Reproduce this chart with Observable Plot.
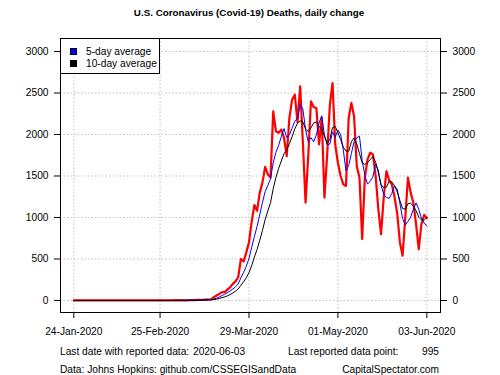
<!DOCTYPE html>
<html>
<head>
<meta charset="utf-8">
<script src="https://cdn.jsdelivr.net/npm/d3@7"></script>
<script src="https://cdn.jsdelivr.net/npm/@observablehq/plot@0.6"></script>
<style>
  html, body { margin: 0; padding: 0; background: white; }
  #wrap { position: relative; width: 500px; height: 375px; font-family: 'Liberation Sans', Arial, sans-serif; color: black; }
  #wrap svg { position: absolute; left: 0; top: 0; }
  .t { position: absolute; white-space: nowrap; font-size: 10.2px; line-height: 1; }
  #title { left: 0; width: 498px; text-align: center; top: 8px; font-weight: bold; font-size: 9.8px; }
  #legend { position: absolute; left: 60px; top: 38px; width: 98px; height: 34px; border: 1px solid black; background: white; box-sizing: content-box; }
  .sw { position: absolute; width: 7px; height: 7px; left: 9px; }
  .lt { position: absolute; left: 25px; font-size: 10.2px; line-height: 1; white-space: nowrap; }
</style>
</head>
<body>
<div id="wrap">
  <div id="chart"></div>
  <div class="t" id="title"></div>
  <div id="legend"></div>
  <div class="t" id="f1a" style="left:60px; top:347px;"></div>
  <div class="t" id="f1b" style="left:193px; top:347px;"></div>
  <div class="t" id="f1c" style="left:288px; top:347px;"></div>
  <div class="t" id="f1d" style="right:61px; top:347px;"></div>
  <div class="t" id="f2a" style="left:60px; top:365px;"></div>
  <div class="t" id="f2b" style="right:61px; top:365px;"></div>
</div>
<script>
// ---- Data ----
const titleText = "U.S. Coronavirus (Covid-19) Deaths, daily change";
const seriesNames = ["5-day average", "10-day average"];
const seriesColors = ["blue", "black"];
const firstDate = "2020-01-24";
// Daily change in deaths, 2020-01-24 .. 2020-06-03
const janFebDeaths = new Array(36).fill(0).concat([1]); // Jan 24 – Feb 29
const marDeaths = [1, 5, 1, 3, 2, 2, 3, 4, 4, 6, 8, 8, 10, 12, 15, 40, 60, 80, 100, 100,
  130, 160, 200, 230, 280, 500, 470, 580, 700, 950, 1150];
const aprDeaths = [1080, 1300, 1420, 1610, 1520, 1480, 2280, 2040, 2020, 2060, 1960, 1740,
  2200, 2420, 2480, 2150, 2580, 1900, 1180, 1750, 2400, 2330, 2320, 1880, 2200, 1240, 1750,
  2350, 2620, 1880];
const mayDeaths = [1660, 1500, 1400, 1380, 2200, 2380, 2220, 1620, 1480, 740, 1480, 1700,
  1780, 1760, 1500, 1100, 800, 1240, 1560, 1450, 1400, 1250, 1050, 700, 540, 1000, 1480,
  1300, 1180, 920, 620];
const junDeaths = [920, 1030, 995];
const yTicks = [0, 500, 1000, 1500, 2000, 2500, 3000];
const xTickLabels = ["2020-01-24", "2020-02-25", "2020-03-29", "2020-05-01", "2020-06-03"];
const footer = {
  lastDateLabel: "Last date with reported data:",
  lastDate: "2020-06-03",
  lastPointLabel: "Last reported data point:",
  lastPoint: "995",
  source: "Data: Johns Hopkins: github.com/CSSEGISandData",
  credit: "CapitalSpectator.com"
};

// ---- Build table ----
const deaths = [].concat(janFebDeaths, marDeaths, aprDeaths, mayDeaths, junDeaths);
const start = new Date(firstDate + "T00:00:00Z");
const data = deaths.map((v, i) => ({date: d3.utcDay.offset(start, i), deaths: v}));
const xTicks = xTickLabels.map(s => new Date(s + "T00:00:00Z"));

const chart = Plot.plot({
  width: 500,
  height: 375,
  marginLeft: 60,
  marginRight: 60,
  marginTop: 38,
  marginBottom: 63,
  x: {type: "utc", domain: [new Date("2020-01-19T01:26:00Z"), new Date("2020-06-08T01:40:00Z")]},
  y: {domain: [-145, 3157]},
  style: {fontFamily: "'Liberation Sans', Arial, sans-serif", fontSize: "10.2px", color: "black", background: "white", overflow: "visible"},
  marks: [
    Plot.gridY(yTicks, {stroke: "#c2c2c2", strokeOpacity: 1, strokeDasharray: "1.5,2"}),
    Plot.gridX(xTicks, {stroke: "#c2c2c2", strokeOpacity: 1, strokeDasharray: "1.5,2"}),
    Plot.line(data, {x: "date", y: "deaths", stroke: "red", strokeWidth: 2.2}),
    Plot.line(data, Plot.windowY({k: 5, anchor: "end", reduce: "mean"}, {x: "date", y: "deaths", stroke: seriesColors[0], strokeWidth: 1})),
    Plot.line(data, Plot.windowY({k: 10, anchor: "end", reduce: "mean"}, {x: "date", y: "deaths", stroke: seriesColors[1], strokeWidth: 1})),
    Plot.frame({stroke: "black", strokeWidth: 1}),
    Plot.axisY(yTicks, {anchor: "left", tickSize: 6, tickPadding: 6, label: null, stroke: "black", tickFormat: d => String(d)}),
    Plot.axisY(yTicks, {anchor: "right", tickSize: 6, tickPadding: 6, label: null, stroke: "black", tickFormat: d => String(d)}),
    Plot.axisX(xTicks, {anchor: "bottom", tickSize: 6, tickPadding: 9, label: null, stroke: "black", tickFormat: d3.utcFormat("%d-%b-%Y")})
  ]
});
document.getElementById("chart").appendChild(chart);

// ---- Texts ----
document.getElementById("title").textContent = titleText;
document.getElementById("f1a").textContent = footer.lastDateLabel;
document.getElementById("f1b").textContent = footer.lastDate;
document.getElementById("f1c").textContent = footer.lastPointLabel;
document.getElementById("f1d").textContent = footer.lastPoint;
document.getElementById("f2a").textContent = footer.source;
document.getElementById("f2b").textContent = footer.credit;

const legend = document.getElementById("legend");
seriesNames.forEach((name, i) => {
  const sw = document.createElement("div");
  sw.className = "sw";
  sw.style.top = (9 + i * 12) + "px";
  sw.style.background = seriesColors[i];
  sw.style.border = "0.5px solid black";
  sw.style.boxSizing = "border-box";
  legend.appendChild(sw);
  const lt = document.createElement("div");
  lt.className = "lt";
  lt.style.top = (8 + i * 12) + "px";
  lt.textContent = name;
  legend.appendChild(lt);
});
</script>
</body>
</html>
